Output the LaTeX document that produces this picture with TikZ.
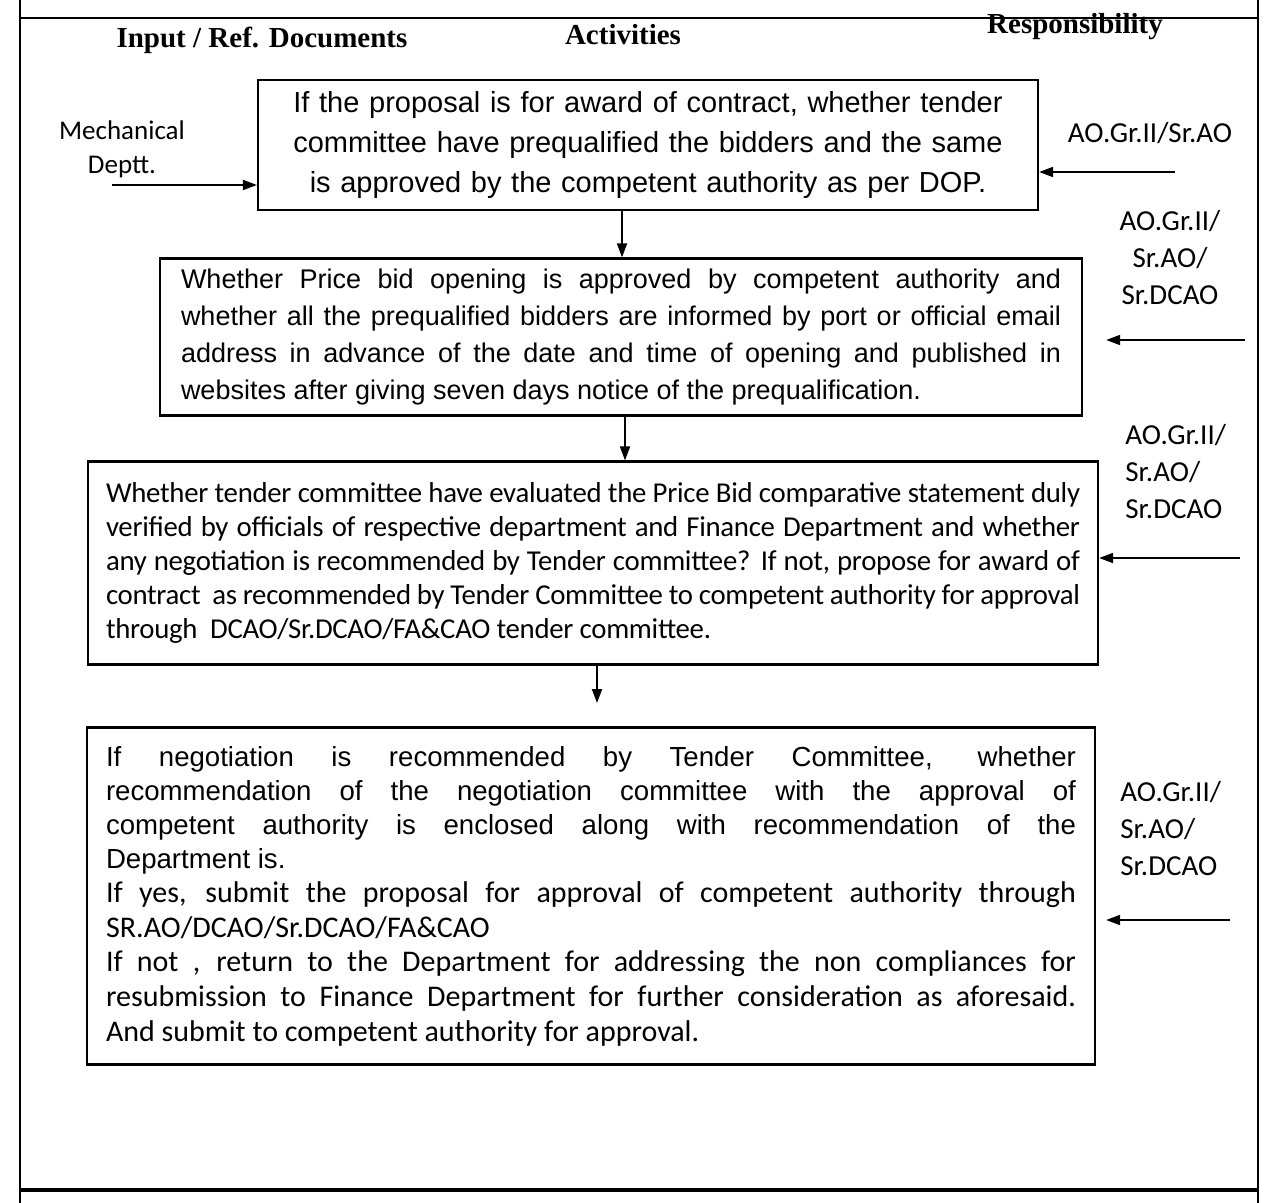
\documentclass[tikz,border=0pt]{standalone}
\usepackage{fontspec}
\usetikzlibrary{arrows.meta}
\newfontfamily\arialfont{Liberation Sans}
\newfontfamily\calibrifont{Carlito}
\newfontfamily\calibritight{Carlito}[LetterSpace=-1.0]
\newfontfamily\timesfont{Liberation Serif}
\setlength{\parindent}{0pt}

\begin{document}
\begin{tikzpicture}[x=0.5pt, y=-0.5pt, >={Triangle[length=7pt,width=5pt]}, line join=miter]
  \useasboundingbox (0,0) rectangle (1273,1203);

  % Estilos de cajas, flechas y textos
  \tikzset{
    box/.style={draw, line width=1.1pt, inner ysep=0pt, align=justify},
    flow/.style={->, line width=0.9pt},
    frameline/.style={line width=1pt},
    header/.style={font=\timesfont\bfseries\fontsize{14.5}{17}\selectfont},
    resp/.style={font=\calibrifont\fontsize{14.5}{18.5}\selectfont, inner sep=0pt}
  }

  % Marco de la tabla
  \draw[frameline] (20,0) -- (20,1203);
  \draw[frameline] (1258,0) -- (1258,1203);
  \draw[frameline] (20,18) -- (1258,18);
  \draw[line width=1.6pt] (20,1190) -- (1258,1190);

  % Encabezados
  \node[header] (hInput) at (262,40) {Input / Ref. Documents};
  \node[header] (hAct) at (623,35) {Activities};
  \node[header] (hResp) at (1075,27) {Responsibility};

  % Cajas de actividades
  \node[box, align=center, text width=374pt, inner xsep=8pt, minimum height=65pt,
        font=\arialfont\fontsize{14.5}{20}\selectfont] (box1) at (648,145)
    {If the proposal is for award of contract, whether tender\\committee have prequalified the bidders and the same\\is approved by the competent authority as per DOP.};
  \node[box, text width=440pt, inner xsep=10.5pt, minimum height=78.5pt,
        font=\arialfont\fontsize{13.5}{18.5}\selectfont] (box2) at (621,337)
    {Whether Price bid opening is approved by competent authority and\linebreak
     whether all the prequalified bidders are informed by port or official email\linebreak
     address in advance of the date and time of opening and published in\linebreak
     websites after giving seven days notice of the prequalification.};
  \node[box, text width=487pt, inner xsep=9pt, minimum height=101.5pt,
        font={\calibritight\fontsize{14.4}{17}\selectfont\hyphenpenalty 10000\relax}] (box3) at (593,563)
    {Whether tender committee have evaluated the Price Bid comparative statement duly\linebreak
     verified by officials of respective department and Finance Department and whether\linebreak
     any negotiation is recommended by Tender committee? If not, propose for award of\linebreak
     contract\ \ as recommended by Tender Committee to competent authority for approval\linebreak
     through\ \ DCAO/Sr.DCAO/FA\&CAO tender committee.};
  \node[box, text width=485pt, inner xsep=9.5pt, minimum height=168.5pt,
        font=\calibrifont\fontsize{15}{17.3}\selectfont] (box4) at (591,896)
    {{\arialfont\fontsize{13.8}{17}\selectfont If negotiation is recommended by Tender Committee, whether\linebreak
     recommendation of the negotiation committee with the approval of\linebreak
     competent authority is enclosed along with recommendation of the\linebreak
     Department is.\par}
     If yes, submit the proposal for approval of competent authority through\linebreak
     SR.AO/DCAO/Sr.DCAO/FA\&CAO\par
     If not , return to the Department for addressing the non compliances for\linebreak
     resubmission to Finance Department for further consideration as aforesaid.\linebreak
     And submit to competent authority for approval.};

  % Entradas y responsables
  \node[font=\calibrifont\fontsize{13.5}{17}\selectfont, align=center, inner sep=0pt] (input1) at (122,149) {Mechanical\\Deptt.};
  \node[resp, align=center] (resp1) at (1150,133) {AO.Gr.II/Sr.AO};
  \node[resp, align=center] (resp2) at (1170,258) {AO.Gr.II/\\Sr.AO/\\Sr.DCAO};
  \node[resp, align=left, anchor=west] (resp3) at (1125,472) {AO.Gr.II/\\Sr.AO/\\Sr.DCAO};
  \node[resp, align=left, anchor=west] (resp4) at (1120,829) {AO.Gr.II/\\Sr.AO/\\Sr.DCAO};

  % Flechas entre cajas
  \draw[flow] ([xshift=-13pt]box1.south) -- ([xshift=-13pt]box1.south |- box2.north);
  \draw[flow] ([xshift=2pt]box2.south) -- ([xshift=2pt]box2.south |- box3.north);
  \coordinate (c34) at (597,703);
  \draw[flow] (c34 |- box3.south) -- (c34);

  % Flechas laterales
  \coordinate (t0) at (112,185);
  \draw[flow] (t0) -- (t0 -| box1.west);
  \coordinate (t1) at (1175,172);
  \draw[flow] (t1) -- (t1 -| box1.east);
  \coordinate (t2) at (1245,340);
  \draw[flow, shorten >=11.5pt] (t2) -- (t2 -| box2.east);
  \coordinate (t3) at (1240,558);
  \draw[flow] (t3) -- (t3 -| box3.east);
  \coordinate (t4) at (1230,920);
  \draw[flow, shorten >=5pt] (t4) -- (t4 -| box4.east);

\end{tikzpicture}
\end{document}
